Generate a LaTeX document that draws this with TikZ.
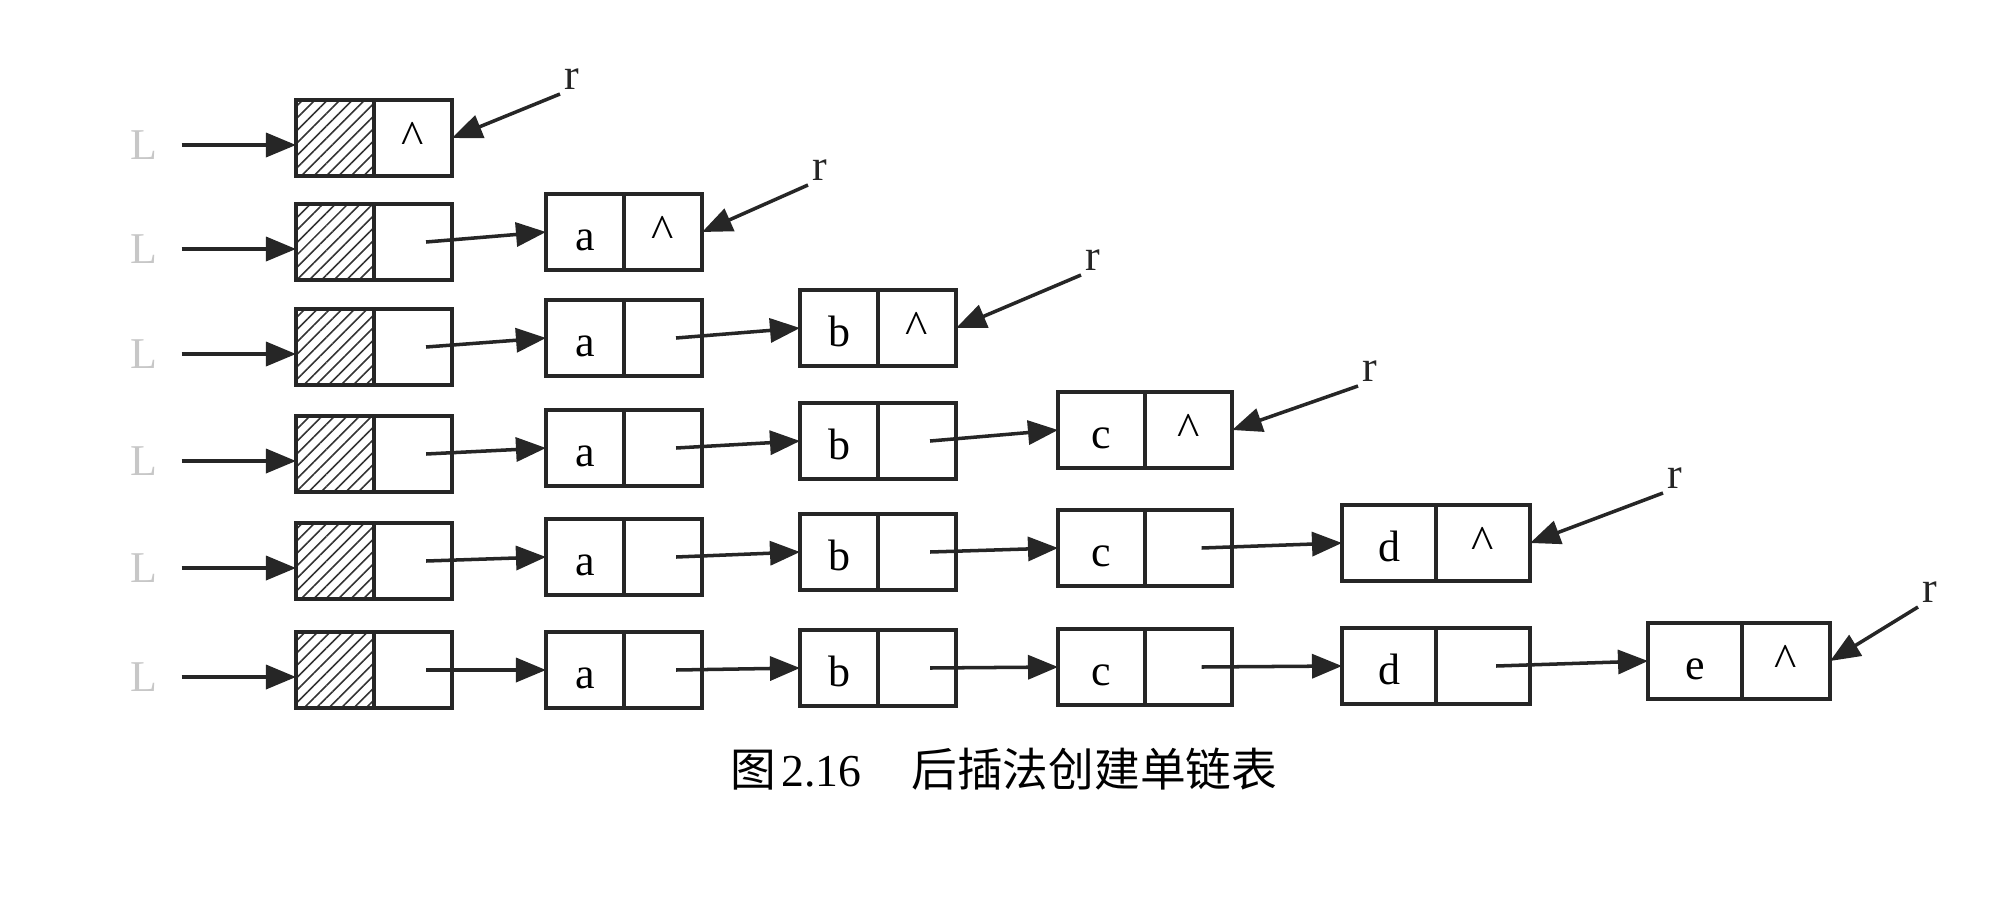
\documentclass[tikz,border=0pt]{standalone}
\usepackage{fontspec}
\setmainfont{Liberation Serif}
\newfontfamily\cjk{Noto Sans CJK SC}
\usetikzlibrary{arrows.meta,positioning,patterns.meta}

\begin{document}
\begin{tikzpicture}[x=0.01cm, y=-0.01cm, >={Triangle[length=3mm,width=2.4mm]},
	every node/.style={font=\fontsize{12.5}{14}\selectfont},
	cell/.style={draw=black!85, line width=0.95pt, inner sep=0pt, outer sep=0pt, minimum width=7.8mm, minimum height=7.6mm, anchor=west},
	val/.style={cell, text height=3.6mm, text depth=0pt},
	mid/.style={minimum width=8.7mm},
	big/.style={minimum width=9.4mm},
	hatch/.style={cell, pattern={Lines[angle=45,distance=2.5pt,line width=0.45pt]}, pattern color=black!80},
	nil/.style={cell, font=\fontsize{13.5}{16}\selectfont},
	link/.style={->, line width=1pt, draw=black!85},
	lname/.style={text=black!22, inner sep=1pt},
	rname/.style={text=black!85, inner sep=1pt, anchor=south west}]
	\useasboundingbox (0,0) rectangle (2000,900);
	\begin{scope}
		\node[lname] (L1) at (144,145) {L};
		\node[hatch] (h1) at (296,138) {};
		\node[nil, right=0pt of h1] (h1p) {\textasciicircum};
		\node[rname] (r1) at (560,94) {r};
		\draw[link, shorten <=2mm] (L1.east) -- (L1.east -| h1.west);
		\draw[link] (r1.south west) -- (h1p.east);
	\end{scope}
	\begin{scope}
		\node[lname] (L2) at (144,249) {L};
		\node[hatch] (h2) at (296,242) {};
		\node[cell, right=0pt of h2] (h2p) {};
		\node[val] (a2) at (546,232) {a};
		\node[nil, right=0pt of a2] (a2p) {\textasciicircum};
		\node[rname] (r2) at (808,185) {r};
		\draw[link, shorten <=2mm] (L2.east) -- (L2.east -| h2.west);
		\draw[link] ([xshift=1.3mm]h2p.center) -- (a2.west);
		\draw[link] (r2.south west) -- (a2p.east);
	\end{scope}
	\begin{scope}
		\node[lname] (L3) at (144,354) {L};
		\node[hatch] (h3) at (296,347) {};
		\node[cell, right=0pt of h3] (h3p) {};
		\node[val] (a3) at (546,338) {a};
		\node[cell, right=0pt of a3] (a3p) {};
		\node[val] (b3) at (800,328) {b};
		\node[nil, right=0pt of b3] (b3p) {\textasciicircum};
		\node[rname] (r3) at (1081,275) {r};
		\draw[link, shorten <=2mm] (L3.east) -- (L3.east -| h3.west);
		\draw[link] ([xshift=1.3mm]h3p.center) -- (a3.west);
		\draw[link] ([xshift=1.3mm]a3p.center) -- (b3.west);
		\draw[link] (r3.south west) -- (b3p.east);
	\end{scope}
	\begin{scope}
		\node[lname] (L4) at (144,461) {L};
		\node[hatch] (h4) at (296,454) {};
		\node[cell, right=0pt of h4] (h4p) {};
		\node[val] (a4) at (546,448) {a};
		\node[cell, right=0pt of a4] (a4p) {};
		\node[val] (b4) at (800,441) {b};
		\node[cell, right=0pt of b4] (b4p) {};
		\node[val, mid] (c4) at (1058,430) {c};
		\node[nil, mid, right=0pt of c4] (c4p) {\textasciicircum};
		\node[rname] (r4) at (1358,386) {r};
		\draw[link, shorten <=2mm] (L4.east) -- (L4.east -| h4.west);
		\draw[link] ([xshift=1.3mm]h4p.center) -- (a4.west);
		\draw[link] ([xshift=1.3mm]a4p.center) -- (b4.west);
		\draw[link] ([xshift=1.3mm]b4p.center) -- (c4.west);
		\draw[link] (r4.south west) -- (c4p.east);
	\end{scope}
	\begin{scope}
		\node[lname] (L5) at (144,568) {L};
		\node[hatch] (h5) at (296,561) {};
		\node[cell, right=0pt of h5] (h5p) {};
		\node[val] (a5) at (546,557) {a};
		\node[cell, right=0pt of a5] (a5p) {};
		\node[val] (b5) at (800,552) {b};
		\node[cell, right=0pt of b5] (b5p) {};
		\node[val, mid] (c5) at (1058,548) {c};
		\node[cell, mid, right=0pt of c5] (c5p) {};
		\node[val, big] (d5) at (1342,543) {d};
		\node[nil, big, right=0pt of d5] (d5p) {\textasciicircum};
		\node[rname] (r5) at (1663,493) {r};
		\draw[link, shorten <=2mm] (L5.east) -- (L5.east -| h5.west);
		\draw[link] ([xshift=1.3mm]h5p.center) -- (a5.west);
		\draw[link] ([xshift=1.3mm]a5p.center) -- (b5.west);
		\draw[link] ([xshift=1.3mm]b5p.center) -- (c5.west);
		\draw[link] ([xshift=1.3mm]c5p.center) -- (d5.west);
		\draw[link] (r5.south west) -- (d5p.east);
	\end{scope}
	\begin{scope}
		\node[lname] (L6) at (144,677) {L};
		\node[hatch] (h6) at (296,670) {};
		\node[cell, right=0pt of h6] (h6p) {};
		\node[val] (a6) at (546,670) {a};
		\node[cell, right=0pt of a6] (a6p) {};
		\node[val] (b6) at (800,668) {b};
		\node[cell, right=0pt of b6] (b6p) {};
		\node[val, mid] (c6) at (1058,667) {c};
		\node[cell, mid, right=0pt of c6] (c6p) {};
		\node[val, big] (d6) at (1342,666) {d};
		\node[cell, big, right=0pt of d6] (d6p) {};
		\node[val, big] (e6) at (1648,661) {e};
		\node[nil, right=0pt of e6, minimum width=8.8mm] (e6p) {\textasciicircum};
		\node[rname] (r6) at (1918,607) {r};
		\draw[link, shorten <=2mm] (L6.east) -- (L6.east -| h6.west);
		\draw[link] ([xshift=1.3mm]h6p.center) -- (a6.west);
		\draw[link] ([xshift=1.3mm]a6p.center) -- (b6.west);
		\draw[link] ([xshift=1.3mm]b6p.center) -- (c6.west);
		\draw[link] ([xshift=1.3mm]c6p.center) -- (d6.west);
		\draw[link] ([xshift=1.3mm]d6p.center) -- (e6.west);
		\draw[link] (r6.south west) -- (e6p.east);
	\end{scope}
	\node[font=\fontsize{13}{16}\selectfont] (caption) at (1004,769) {{\cjk 图}\hspace{0.5mm}2.16\hspace{5mm}{\cjk 后插法创建单链表}};
\end{tikzpicture}
\end{document}
